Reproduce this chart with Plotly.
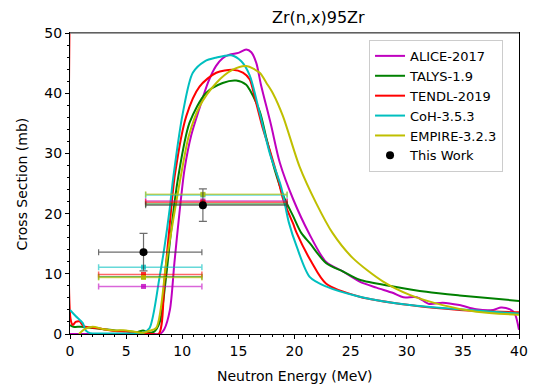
import plotly.graph_objects as go

# Calculated excitation functions (energy in MeV, cross section in mb)
alice_e = [0, 7.5, 8.0, 8.4, 8.9, 9.3, 9.75, 10.2, 10.8, 11.5, 12.3, 13.0, 13.6, 14.2, 15.0, 15.7,
           16.15, 16.6, 17.0, 17.9, 18.7, 19.9, 21.3, 22.8, 24.3, 25.8, 27.3, 28.8, 29.7, 30.9,
           32.0, 33.2, 34.7, 36.2, 37.7, 38.4, 39.2, 39.6, 40]
alice_xs = [0, 0, 0, 0.8, 4.0, 11.8, 20.1, 27.3, 33.0, 37.3, 41.8, 44.5, 45.8, 46.4, 46.7, 47.25,
            46.8, 45.0, 41.5, 34.8, 28.4, 22.3, 16.7, 12.0, 10.4, 8.7, 7.7, 6.8, 6.1, 6.1,
            5.0, 5.2, 4.8, 4.1, 4.0, 4.4, 4.1, 3.5, 0.7]

talys_e = [0, 0.3, 1.0, 2.0, 3.0, 4.0, 5.0, 6.0, 6.5, 7.0, 7.5, 8.0, 8.5, 9.0, 9.6, 10.65, 12.1,
           13.6, 14.8, 15.7, 16.0, 16.9, 17.5, 18.2, 19.0, 19.9, 20.6, 21.4, 22.8, 24.3, 25.8,
           28.8, 31.75, 34.7, 40]
talys_xs = [1.5, 1.2, 1.2, 1.0, 0.8, 0.6, 0.5, 0.3, 0.6, 0.2, 0.4, 2.0, 8.5, 17.0, 25.6, 35.1, 40.0,
            41.7, 42.1, 41.4, 40.6, 37.0, 32.5, 27.5, 23.0, 19.5, 16.8, 15.0, 11.8, 10.4, 9.0,
            7.9, 7.0, 6.4, 5.5]

tendl_e = [0, 0.05, 0.25, 0.5, 0.85, 1.2, 1.8, 3.0, 4.0, 5.0, 6.0, 7.0, 7.9, 8.42, 8.87, 9.35,
           10.36, 11.54, 13.03, 14.5, 15.4, 16.0, 16.5, 17.2, 17.8, 18.5, 19.0, 19.86, 20.2, 21.5,
           22.8, 25.8, 30.26, 34.7, 40]
tendl_xs = [60, 2.5, 1.5, 2.0, 2.1, 1.3, 1.1, 0.8, 0.5, 0.4, 0.2, 0.1, 0, 9.0, 17.9, 26.5,
            36.2, 41.1, 43.4, 43.9, 43.4, 42.3, 39.0, 34.0, 30.5, 26.0, 22.3, 18.4, 16.75, 12.0,
            8.4, 6.2, 4.8, 4.0, 3.6]

coh_e = [0, 0.5, 1.14, 1.4, 1.8, 3.0, 5.0, 6.5, 7.08, 7.98, 8.42, 8.87, 9.2, 10.05, 10.94, 12.0,
         13.0, 14.37, 15.26, 16.0, 16.9, 17.8, 18.8, 19.5, 20.2, 21.35, 22.8, 25.8, 30.26, 34.7, 40]
coh_xs = [4.0, 3.0, 1.8, 0.6, 0.15, 0.1, 0.1, 0.2, 0.95, 9.5, 14.5, 20.6, 26.0, 36.7, 43.4, 45.3,
          45.9, 46.3, 45.3, 43.0, 36.7, 30.0, 24.5, 18.5, 14.5, 9.5, 7.9, 6.2, 4.8, 4.1, 3.4]

empire_e = [0.8, 1.3, 2.0, 3.0, 4.0, 5.0, 6.0, 6.5, 7.0, 7.68, 8.57, 9.2, 9.9, 10.6, 11.54, 13.03,
            14.5, 15.7, 16.9, 17.5, 18.07, 18.97, 20.45, 21.94, 23.4, 25.2, 27.9,
            30.26, 33.2, 36.2, 40]
empire_xs = [0, 0.8, 1.2, 0.8, 0.6, 0.6, 0.3, 0.2, 0.5, 1.0, 11.8, 19.0, 26.5, 33.0, 37.8, 41.7,
             43.9, 44.5, 43.4, 41.7, 40.0, 36.2, 27.8, 21.7, 16.75, 12.6, 8.7,
             6.5, 4.8, 3.7, 3.2]

# Measured flux-weighted cross sections and the model averages over the same spectra
exp_e = [6.55, 11.84]
exp_e_lo = [4.0, 5.1]
exp_e_hi = [5.2, 7.5]
exp_xs = [13.6, 21.4]
exp_xs_err = [3.1, 2.7]

avg_alice = [7.9, 22.1]
avg_talys = [9.5, 21.6]
avg_tendl = [9.9, 21.9]
avg_coh = [11.1, 23.1]
avg_empire = [9.4, 23.2]

models = [
    ("ALICE-2017", alice_e, alice_xs, avg_alice, "#bf00bf", "rgba(191,0,191,0.6)"),
    ("TALYS-1.9", talys_e, talys_xs, avg_talys, "#008000", "rgba(0,128,0,0.6)"),
    ("TENDL-2019", tendl_e, tendl_xs, avg_tendl, "#ff0000", "rgba(255,0,0,0.6)"),
    ("CoH-3.5.3", coh_e, coh_xs, avg_coh, "#00bfbf", "rgba(0,191,191,0.6)"),
    ("EMPIRE-3.2.3", empire_e, empire_xs, avg_empire, "#bfbf00", "rgba(191,191,0,0.6)"),
]

fig = go.Figure()

for name, e, xs, avg, col, faint in models:
    fig.add_trace(go.Scatter(
        x=e, y=xs, name=name, mode="lines",
        line=dict(color=col, width=2, shape="spline", smoothing=0.8),
    ))

for name, e, xs, avg, col, faint in models:
    fig.add_trace(go.Scatter(
        x=exp_e, y=avg, mode="markers", showlegend=False,
        marker=dict(color=col, size=5, symbol="square", opacity=0.8),
        error_x=dict(type="data", symmetric=False, array=exp_e_hi, arrayminus=exp_e_lo,
                     color=faint, thickness=1.5, width=3),
    ))

fig.add_trace(go.Scatter(
    x=exp_e, y=exp_xs, name="This Work", mode="markers",
    marker=dict(color="black", size=8),
    error_x=dict(type="data", symmetric=False, array=exp_e_hi, arrayminus=exp_e_lo,
                 color="rgba(60,60,60,0.75)", thickness=1.2, width=3),
    error_y=dict(type="data", array=exp_xs_err, color="rgba(60,60,60,0.75)",
                 thickness=1.2, width=4),
))

font = "DejaVu Sans"
axis_common = dict(
    showgrid=False, zeroline=False, showline=True, linecolor="black", linewidth=1,
    mirror=True, ticks="outside", ticklen=4, tickwidth=1, tickcolor="black",
    tickfont=dict(family=font, size=14, color="black"), automargin=False,
)

fig.update_layout(
    width=534, height=390,
    margin=dict(l=70, r=15, t=33, b=56),
    paper_bgcolor="white", plot_bgcolor="white",
    font=dict(family=font, size=14, color="black"),
    title=dict(text="Zr(n,x)95Zr", x=0.553, xanchor="center", xref="paper",
               y=0.955, yref="container", yanchor="middle",
               font=dict(family=font, size=16, color="black")),
    xaxis=dict(range=[0, 40], dtick=5, tick0=0,
               minor=dict(dtick=1, ticks="outside", ticklen=2, tickcolor="black"),
               **axis_common),
    yaxis=dict(range=[0, 50], dtick=10, tick0=0,
               minor=dict(dtick=2, ticks="outside", ticklen=2, tickcolor="black"),
               **axis_common),
    legend=dict(x=0.666, y=0.977, xanchor="left", yanchor="top",
                bgcolor="rgba(255,255,255,0.85)", bordercolor="#cccccc", borderwidth=1,
                font=dict(family=font, size=13, color="black"), tracegroupgap=0),
    showlegend=True,
    shapes=[
        # softer top frame edge
        dict(type="line", xref="paper", yref="paper", x0=0, x1=1, y0=1, y1=1,
             line=dict(color="#808080", width=1.5)),
    ],
    annotations=[
        dict(text="Neutron Energy (MeV)", xref="paper", yref="paper", x=0.5, y=-0.14,
             xanchor="center", yanchor="middle", showarrow=False,
             font=dict(family=font, size=14, color="black")),
        dict(text="Cross Section (mb)", xref="paper", yref="paper", x=-0.107, y=0.5,
             xanchor="center", yanchor="middle", textangle=-90, showarrow=False,
             font=dict(family=font, size=14, color="black")),
    ],
)

fig.write_html("out.html")
